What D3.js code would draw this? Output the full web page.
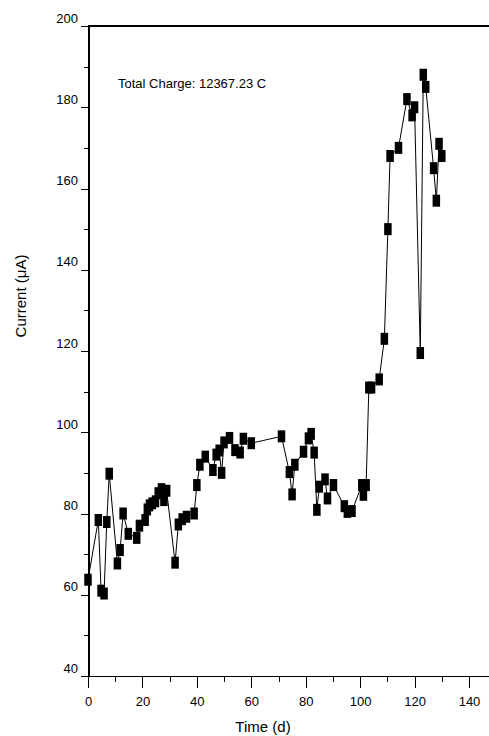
<!DOCTYPE html>
<html>
<head>
	<meta charset="utf-8">
	<title>Current vs time</title>
	<script src="https://cdn.jsdelivr.net/npm/d3@7"></script>
	<style type="text/css">
		body {
			margin: 0;
			background: white;
		}
		.axis path,
		.axis line {
			fill: none;
			stroke: black;
			shape-rendering: crispEdges;
		}
		.axis text {
			font-family: "Liberation Sans", Arial, sans-serif;
			font-size: 13px;
			fill: black;
		}
		.line {
			fill: none;
			stroke: black;
			stroke-width: 1;
		}
	</style>
</head>
<body>
	<script type="text/javascript">
		// values
		var times = [0, 3.8, 4.8, 5.9, 6.9, 7.8, 10.8, 11.8, 12.9, 14.8, 17.9, 18.9, 21, 21.8, 22.6, 23.6, 24.8, 25.8, 27, 27.9,
			28.9, 32, 33.2, 34.6, 36.2, 39, 40, 41.1, 43.1, 45.9, 47.1, 48.2, 49.1, 50, 52, 54, 55.9, 57.1, 60, 71.1,
			74, 75, 76, 79.2, 81, 82, 83.1, 84.1, 85, 87.1, 88, 90.2, 94.2, 95.3, 97, 100.6, 101.2, 102.2, 103.2, 104.2,
			107, 108.9, 110.2, 111, 114.1, 117.2, 119.1, 120, 122.1, 123.2, 124.1, 127, 128, 129, 130];
		var current = [63.7, 78.4, 61, 60.3, 77.9, 89.8, 67.7, 71, 80, 75, 74, 77, 78.4, 81, 82, 82.5, 83, 85, 86, 83.3,
			85.6, 67.9, 77.3, 78.6, 79.2, 80, 87, 92, 94, 90.7, 94.5, 95.5, 90, 97.5, 98.6, 95.6, 95, 98.4, 97.3, 99,
			90.2, 84.7, 92, 95.2, 98.5, 99.6, 95, 80.9, 86.6, 88.4, 83.7, 87, 81.8, 80.4, 80.6, 87, 84.6, 87, 111, 111,
			113, 123, 150, 168, 170, 182, 178, 180, 119.5, 188, 185, 165, 157, 171, 168];
		var xTicks = [0, 20, 40, 60, 80, 100, 120, 140];
		var xMinor = [10, 30, 50, 70, 90, 110, 130];
		var yTicks = [40, 60, 80, 100, 120, 140, 160, 180, 200];
		var yMinor = [50, 70, 90, 110, 130, 150, 170, 190];
		var note = "Total Charge: 12367.23 C";

		var width = 489,
			height = 736,
			padLeft = 88,
			padTop = 26,
			padBottom = 676;

		var dataset = times.map(function (t, i) {
			return { t: t, v: current[i] };
		});

		var svg = d3.select("body")
			.append("svg")
			.attr("width", width)
			.attr("height", height);

		var xScale = d3.scaleLinear()
			.domain([0, 150])
			.range([padLeft, padLeft + 150 * (381 / 140)]);
		var yScale = d3.scaleLinear()
			.domain([40, 200])
			.range([padBottom, padTop]);

		// minor ticks first, then the labelled ones
		svg.append("g")
			.attr("class", "axis")
			.attr("transform", "translate(0," + padBottom + ")")
			.call(d3.axisBottom(xScale).tickValues(xMinor).tickSize(6).tickSizeOuter(0).tickFormat(""));
		svg.append("g")
			.attr("class", "axis")
			.attr("transform", "translate(0," + padBottom + ")")
			.call(d3.axisBottom(xScale).tickValues(xTicks).tickSize(12).tickSizeOuter(0).tickPadding(9).tickFormat(d3.format("d")))
			.select(".domain").attr("stroke-width", 1.5);

		svg.append("g")
			.attr("class", "axis")
			.attr("transform", "translate(" + padLeft + ",0)")
			.call(d3.axisLeft(yScale).tickValues(yMinor).tickSize(4).tickSizeOuter(0).tickFormat(""));
		var yAxisG = svg.append("g")
			.attr("class", "axis")
			.attr("transform", "translate(" + padLeft + ",0)")
			.call(d3.axisLeft(yScale).tickValues(yTicks).tickSize(7).tickSizeOuter(0).tickPadding(3).tickFormat(d3.format("d")));
		yAxisG.select(".domain").attr("stroke-width", 2);
		yAxisG.selectAll(".tick text").attr("dy", "-0.3em");

		// top frame line
		svg.append("line")
			.attr("x1", padLeft)
			.attr("x2", width)
			.attr("y1", yScale(200))
			.attr("y2", yScale(200))
			.attr("stroke", "black")
			.attr("stroke-width", 1.5)
			.attr("shape-rendering", "crispEdges");

		var line = d3.line()
			.x(function (d) { return xScale(d.t); })
			.y(function (d) { return yScale(d.v); });

		svg.append("path")
			.datum(dataset)
			.attr("class", "line")
			.attr("d", line);

		svg.append("g")
			.selectAll("rect")
			.data(dataset)
			.enter()
			.append("rect")
			.attr("x", function (d) { return xScale(d.t) - 3.75; })
			.attr("y", function (d) { return yScale(d.v) - 6; })
			.attr("width", 7.5)
			.attr("height", 12)
			.attr("fill", "black");

		svg.append("text")
			.attr("x", 118)
			.attr("y", 88)
			.attr("font-family", "Liberation Sans, Arial, sans-serif")
			.attr("font-size", "13px")
			.text(note);

		svg.append("text")
			.attr("transform", "translate(26," + ((padTop + padBottom) / 2 - 55) + ") rotate(-90)")
			.attr("text-anchor", "middle")
			.attr("font-family", "Liberation Sans, Arial, sans-serif")
			.attr("font-size", "15px")
			.text("Current (\u03bcA)");

		svg.append("text")
			.attr("x", 263)
			.attr("y", 732)
			.attr("text-anchor", "middle")
			.attr("font-family", "Liberation Sans, Arial, sans-serif")
			.attr("font-size", "15px")
			.text("Time (d)");
	</script>
</body>
</html>
